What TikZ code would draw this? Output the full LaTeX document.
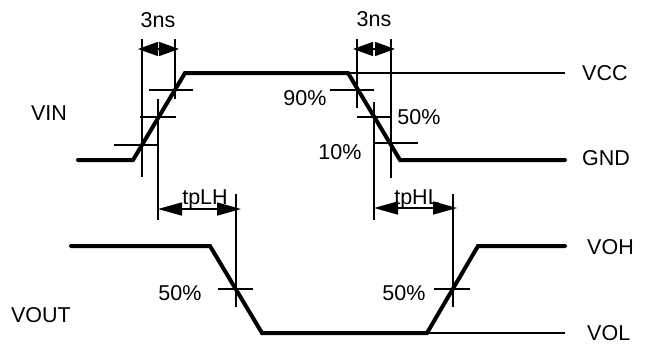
\documentclass[tikz,border=0pt]{standalone}
\usepackage{fontspec}
\setmainfont{Liberation Sans}
\usetikzlibrary{arrows.meta}
\tikzset{
    wave/.style = {
        line width=4pt,
        line cap=round,
        line join=miter
    },
    railline/.style = {
        line width=1.2pt
    },
    guideline/.style = {
        line width=1.2pt
    },
    lbl/.style = {
        font=\fontsize{21.5}{24}\selectfont,
        inner sep=0pt
    },
    slope/.style = {
        line width=1.2pt,
        {Triangle[length=20pt,width=14pt]}-{Triangle[length=20pt,width=14pt]}
    },
    delay/.style = {
        line width=1.5pt,
        {Triangle[length=24pt,width=13pt]}-{Triangle[length=24pt,width=13pt]}
    }
}

\begin{document}
\begin{tikzpicture}[x=1pt, y=-1pt]
    \useasboundingbox (0,0) rectangle (648,354);
    % input waveform
    \coordinate (inA) at (78,160);
    \coordinate (inB) at (133,160);
    \coordinate (inC) at (185,73);
    \coordinate (inD) at (348,73);
    \coordinate (inE) at (400,160);
    \coordinate (inF) at (565,160);
    \coordinate (vccEnd) at (565,73);
    \draw[wave] (inA) -- (inB) -- (inC) -- (inD) -- (inE) -- (inF);
    \draw[railline] (inD) -- (vccEnd);
    % output waveform
    \coordinate (outA) at (71,246);
    \coordinate (outB) at (210,246);
    \coordinate (outC) at (262,333);
    \coordinate (outD) at (427,333);
    \coordinate (outE) at (478,246);
    \coordinate (outF) at (565,246);
    \coordinate (volEnd) at (565,333);
    \draw[wave] (outA) -- (outB) -- (outC) -- (outD) -- (outE) -- (outF);
    \draw[railline] (outD) -- (volEnd);
    % crosshairs
    \foreach \x/\ya/\yb in {142/39/177, 158/99/220, 175/39/99,
                            357/39/108, 374/102/220, 391/39/178,
                            236/194/307, 453/194/307}
        \draw[guideline] (\x,\ya) -- (\x,\yb);
    \foreach \y/\xa/\xb in {145/114/158, 117/140/176, 90/149/193,
                            90/330/374, 117/357/392, 143/374/418,
                            289/218/253, 289/434/470}
        \draw[guideline] (\xa,\y) -- (\xb,\y);
    % timing arrows
    \coordinate (riseL) at (138,49);
    \coordinate (riseR) at (179,49);
    \coordinate (fallL) at (353,49);
    \coordinate (fallR) at (395,49);
    \coordinate (lhL) at (158,209);
    \coordinate (lhR) at (241,209);
    \coordinate (hlL) at (374,208);
    \coordinate (hlR) at (457,208);
    \draw[slope] (riseL) -- (riseR);
    \draw[slope] (fallL) -- (fallR);
    \draw[delay] (lhL) -- (lhR);
    \draw[delay] (hlL) -- (hlR);
    % labels
    \node[lbl] (riseTime) at (158,20) {3ns};
    \node[lbl] (fallTime) at (374,19) {3ns};
    \node[lbl] (tplh) at (205,199) {tpLH};
    \node[lbl] (tphl) at (417,199) {tpHL};
    \node[lbl] (vin) at (49,113) {VIN};
    \node[lbl] (vout) at (41,315) {VOUT};
    \node[lbl] (p90) at (305,98) {90\%};
    \node[lbl] (p10) at (340,152) {10\%};
    \node[lbl] (p50in) at (419,117) {50\%};
    \node[lbl] (p50lh) at (180,293) {50\%};
    \node[lbl] (p50hl) at (404,293) {50\%};
    \node[lbl, anchor=west] (vcc) at (582,73) {VCC};
    \node[lbl, anchor=west] (gnd) at (582,158) {GND};
    \node[lbl, anchor=west] (voh) at (587,247) {VOH};
    \node[lbl, anchor=west] (vol) at (587,333) {VOL};
\end{tikzpicture}
\end{document}
